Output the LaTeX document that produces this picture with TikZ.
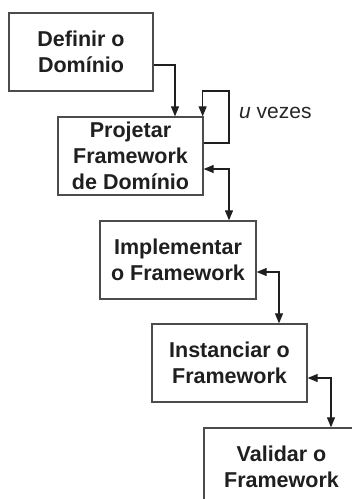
\documentclass[tikz,border=0pt]{standalone}
\usepackage{fontspec}
\setmainfont{Liberation Sans}
\usetikzlibrary{arrows.meta}
\begin{document}
\begin{tikzpicture}[x=1pt,y=-1pt,
  box/.style={draw=black!70, line width=1.3pt, fill=white, inner sep=0pt,
    font=\fontsize{21.5}{26}\selectfont\bfseries, align=center, text=black!88,
    minimum height=78pt},
  conn/.style={draw=black!88, line width=1.1pt, -{Triangle[length=10pt,width=8pt]}},
  biconn/.style={draw=black!88, line width=1.1pt, {Triangle[length=10pt,width=8pt]}-{Triangle[length=10pt,width=8pt]}},
  lbl/.style={font=\fontsize{21}{25}\selectfont, text=black!85, inner sep=0pt}]
\useasboundingbox (0,0) rectangle (352,499);
\begin{scope}
\clip (0,0) rectangle (352,499);
\node[box, minimum width=144pt] (b1) at (81,52) {Definir o\\Domínio};
\node[box, minimum width=145pt] (b2) at (130.5,156) {Projetar\\Framework\\de Domínio};
\node[box, minimum width=156pt] (b3) at (178,260) {Implementar\\o Framework};
\node[box, minimum width=155pt] (b4) at (229.5,363) {Instanciar o\\Framework};
\node[box, minimum width=155pt] (b5) at (281.5,467) {Validar o\\Framework};
\coordinate (c1) at (229,91);
\draw[conn] ([yshift=-13pt]b1.east) -| ([xshift=44.5pt]b2.north);
\draw[conn] ([yshift=13pt]b2.east) -| (c1) -| ([xshift=-1pt]b2.north east);
\node[lbl, anchor=west] (u) at (239,113) {\textit{u} vezes};
\draw[biconn] ([yshift=-13pt]b2.east) -| ([xshift=51pt]b3.north);
\draw[biconn] ([yshift=-12pt]b3.east) -| ([xshift=49.5pt]b4.north);
\draw[biconn] ([yshift=-15pt]b4.east) -| ([xshift=49.5pt]b5.north);
\end{scope}
\end{tikzpicture}
\end{document}
